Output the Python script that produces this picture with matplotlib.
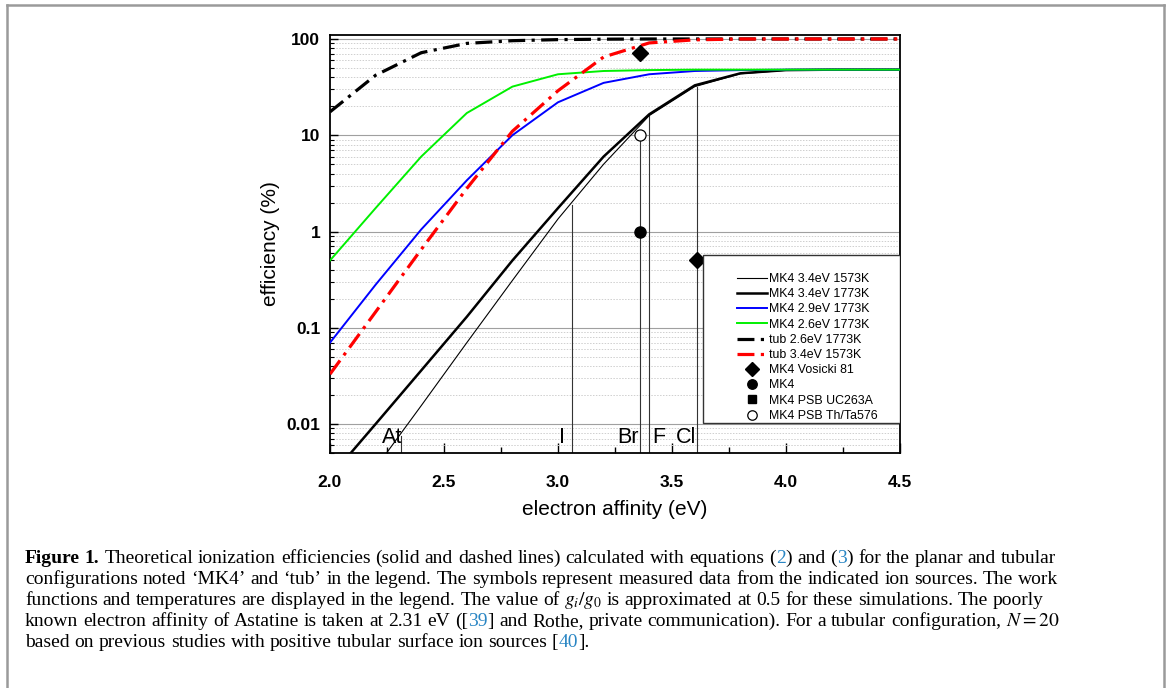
import re
import matplotlib
matplotlib.use("Agg")
import matplotlib.pyplot as plt
from matplotlib.lines import Line2D
from matplotlib.patches import Rectangle
from matplotlib.ticker import FixedLocator, LogLocator, NullFormatter, MultipleLocator

# --- data ---
ea = [2.0, 2.2, 2.4, 2.6, 2.8, 3.0, 3.2, 3.4, 3.6, 3.8, 4.0, 4.2, 4.4, 4.6]
mk4_34_1573 = [0.0008, 0.0035, 0.0155, 0.07, 0.31, 1.35, 5.0, 16.0, 32, 43.5, 47.3, 48, 48, 48]
mk4_34_1773 = [0.0028, 0.010, 0.036, 0.13, 0.5, 1.75, 6.0, 16.5, 33, 44, 47.5, 48, 48, 48]
mk4_29_1773 = [0.07, 0.28, 1.05, 3.4, 10, 22, 35, 43, 46.5, 47.5, 48, 48, 48, 48]
mk4_26_1773 = [0.5, 1.75, 6.0, 17, 32, 43, 46.5, 47.5, 48, 48, 48, 48, 48, 48]
tub_26_1773 = [17.5, 42, 72, 90, 96, 98.5, 99.5, 100, 100, 100, 100, 100, 100, 100]
tub_34_1573 = [0.033, 0.146, 0.65, 2.8, 11, 29, 65, 91, 98, 100, 100, 100, 100, 100]

vosicki_ea = [3.36, 3.61]
vosicki_eff = [72, 0.5]
mk4_ea = [3.36]
mk4_eff = [1.0]
psb_uc_ea = []
psb_uc_eff = []
psb_th_ea = [3.36]
psb_th_eff = [10]

elements = ["At", "I", "Br", "F", "Cl"]
element_ea = [2.31, 3.06, 3.36, 3.40, 3.61]
element_top = [0.0075, 1.9, 10, 16.5, 32]

ytick_vals = [0.01, 0.1, 1, 10, 100]
ytick_labels = ["0.01", "0.1", "1", "10", "100"]
xtick_vals = [2.0, 2.5, 3.0, 3.5, 4.0, 4.5]

W, H = 1170, 688
fig = plt.figure(figsize=(W / 100, H / 100), dpi=100)
plt.rcParams["font.family"] = ["Liberation Sans", "DejaVu Sans"]
plt.rcParams["mathtext.fontset"] = "stix"

# axes box in pixels: x 330..900, y 35..453
ax = fig.add_axes([330 / W, 1 - 453 / H, 570 / W, 418 / H])
ax.set_yscale("log")
ax.set_xlim(2.0, 4.5)
ax.set_ylim(0.005, 110)

dd = (0, (5.3, 2, 1, 2))
ax.plot(ea, mk4_34_1573, color="black", lw=0.8, label="MK4 3.4eV 1573K", zorder=3)
ax.plot(ea, mk4_34_1773, color="black", lw=1.8, label="MK4 3.4eV 1773K", zorder=3)
ax.plot(ea, mk4_29_1773, color="#0000ff", lw=1.4, label="MK4 2.9eV 1773K", zorder=3)
ax.plot(ea, mk4_26_1773, color="#00f000", lw=1.4, label="MK4 2.6eV 1773K", zorder=3)
ax.plot(ea, tub_26_1773, color="black", lw=2.3, ls=dd, label="tub 2.6eV 1773K", zorder=3)
ax.plot(ea, tub_34_1573, color="#ff0000", lw=2.3, ls=dd, label="tub 3.4eV 1573K", zorder=3)

# element electron affinities
label_dx = [0.006, -0.03, -0.006, 0.013, -0.004]
label_ha = ["right", "right", "right", "left", "right"]
for name, e, top, dx, ha in zip(elements, element_ea, element_top, label_dx, label_ha):
    ax.plot([e, e], [0.001, top], color="#333333", lw=0.8, zorder=2)
    ax.text(e + dx, 0.0063, name, ha=ha, va="baseline", fontsize=15.5, zorder=4)

ax.plot(vosicki_ea, vosicki_eff, ls="none", marker="D", ms=8, color="black",
        label="MK4 Vosicki 81", zorder=5)
ax.plot(mk4_ea, mk4_eff, ls="none", marker="o", ms=8, color="black", label="MK4", zorder=5)
ax.plot(psb_uc_ea, psb_uc_eff, ls="none", marker="s", ms=7, color="black",
        label="MK4 PSB UC263A", zorder=5)
ax.plot(psb_th_ea, psb_th_eff, ls="none", marker="o", ms=8, mfc="white", mec="black",
        mew=0.9, label="MK4 PSB Th/Ta576", zorder=5)

# grid and ticks
ax.yaxis.set_major_locator(FixedLocator(ytick_vals))
ax.set_yticklabels(ytick_labels)
ax.yaxis.set_minor_locator(LogLocator(base=10, subs=range(2, 10), numticks=20))
ax.yaxis.set_minor_formatter(NullFormatter())
ax.xaxis.set_major_locator(FixedLocator(xtick_vals))
ax.xaxis.set_minor_locator(MultipleLocator(0.25))
ax.set_xticklabels([f"{v:.1f}" for v in xtick_vals])
ax.grid(True, which="major", axis="y", color="#a0a0a0", lw=0.8)
ax.grid(True, which="minor", axis="y", color="#cfcfcf", lw=0.7, ls=(0, (1.5, 1.5)))
ax.set_axisbelow(True)
ax.tick_params(which="both", direction="in", top=False, right=False)
ax.tick_params(axis="x", which="major", length=7, width=1, pad=16, labelsize=12.5)
ax.tick_params(axis="x", which="minor", length=4, width=1)
ax.tick_params(axis="y", which="major", length=6, width=1, pad=7, labelsize=12.5)
ax.tick_params(axis="y", which="minor", length=3, width=0.8)
for lab in ax.get_xticklabels() + ax.get_yticklabels():
    lab.set_fontweight("bold")
for sp in ax.spines.values():
    sp.set_linewidth(1.3)

ax.set_ylabel("efficiency (%)", fontsize=15)
ax.set_xlabel("electron affinity (eV)", fontsize=15)
ax.yaxis.set_label_coords(-0.088, 0.5)
ax.xaxis.set_label_coords(0.5, -0.112)

# legend: white box drawn by hand, legend itself without frame
box = Rectangle(((703 - 330) / 570, (453 - 423) / 418), (900 - 703) / 570, (423 - 255) / 418,
                transform=ax.transAxes, facecolor="white", edgecolor="#333333", lw=1.0, zorder=6)
ax.add_patch(box)
leg = ax.legend(loc="upper left", bbox_to_anchor=((737 - 330) / 570, (453 - 273) / 418),
                frameon=False, fontsize=8.9, borderpad=0, borderaxespad=0,
                handlelength=2.4, handletextpad=0.2, labelspacing=0.26, markerscale=0.85)
leg.set_zorder(7)

# outer frame of the figure panel
frame_kw = dict(transform=fig.transFigure, color="#9a9a9a", lw=1.8)
fig.add_artist(Line2D([7 / W, 1164 / W], [1 - 5 / H, 1 - 5 / H], **frame_kw))
fig.add_artist(Line2D([7 / W, 7 / W], [1 - 5 / H, 0], **frame_kw))
fig.add_artist(Line2D([1164 / W, 1164 / W], [1 - 5 / H, 0], **frame_kw))

# --- caption, with blue reference numbers ---
caption = [
    "**Figure** **1.** Theoretical ionization efficiencies (solid and dashed lines) calculated with equations ({2}) and ({3}) for the planar and tubular",
    "configurations noted \u2018MK4\u2019 and \u2018tub\u2019 in the legend. The symbols represent measured data from the indicated ion sources. The work",
    "functions and temperatures are displayed in the legend. The value of $g_i/g_0$ is approximated at 0.5 for these simulations. The poorly",
    "known electron affinity of Astatine is taken at 2.31 eV ([{39}] and Rothe, private communication). For a tubular configuration, $N=20$",
    "based on previous studies with positive tubular surface ion sources [{40}].",
]
cap_left = 25
cap_base = [563, 584, 605, 626, 647]
blue = "#2a86c4"
renderer = fig.canvas.get_renderer()


def runs_of(word):
    out = []
    for part in re.split(r"(\*\*.+?\*\*|\{.+?\})", word):
        if not part:
            continue
        if part.startswith("**"):
            out.append((part[2:-2], "black", "bold"))
        elif part.startswith("{"):
            out.append((part[1:-1], blue, "normal"))
        else:
            out.append((part, "black", "normal"))
    return out


def width(s, weight, fs):
    t = fig.text(0, 0, s, fontsize=fs, family="Liberation Serif", fontweight=weight)
    w = t.get_window_extent(renderer).width
    t.remove()
    return w


def line_width(line, fs):
    words = [runs_of(w) for w in line.split(" ")]
    sp = width("a a", "normal", fs) - width("aa", "normal", fs)
    tot = sum(width(s, wt, fs) for runs in words for s, c, wt in runs)
    return tot + sp * (len(words) - 1)


# size the serif text so the first caption line ends near x = 1050 like the original
cap_fs = 13.0 * 1025 / line_width(caption[0], 13.0)
space_w = width("a a", "normal", cap_fs) - width("aa", "normal", cap_fs)
for i, line in enumerate(caption):
    x = cap_left
    for word in line.split(" "):
        for s, c, wt in runs_of(word):
            fig.text(x / W, 1 - cap_base[i] / H, s, fontsize=cap_fs, family="Liberation Serif",
                     fontweight=wt, color=c, va="baseline", ha="left")
            x += width(s, wt, cap_fs)
        x += space_w

fig.savefig("out.png", dpi=100)
